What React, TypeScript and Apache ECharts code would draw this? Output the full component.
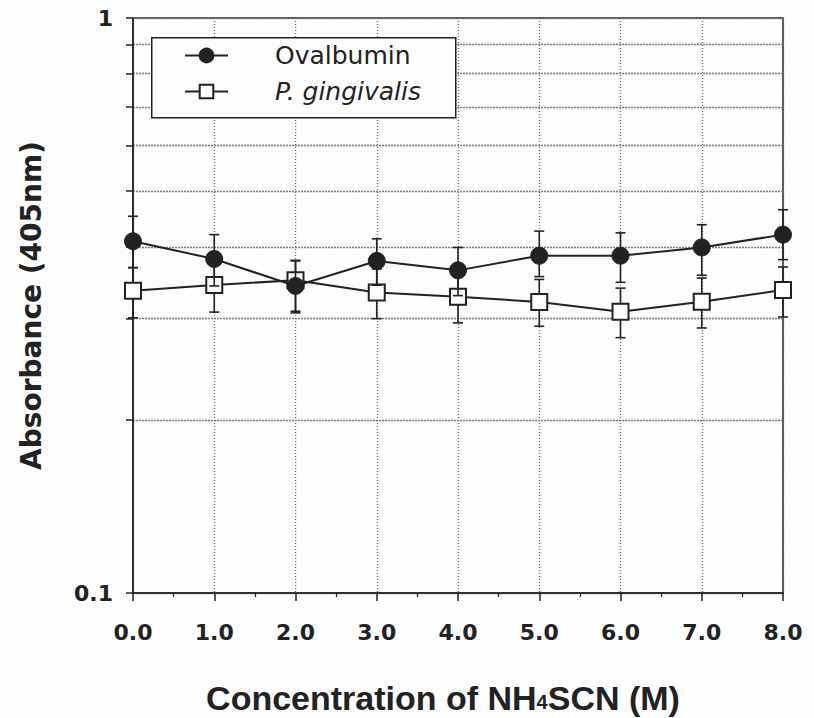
import React, { useEffect, useRef } from "react";
import * as echarts from "echarts";

const xValues = [0, 1, 2, 3, 4, 5, 6, 7, 8];
const xTickLabels = ["0.0", "1.0", "2.0", "3.0", "4.0", "5.0", "6.0", "7.0", "8.0"];

const ovalMean = [0.409, 0.381, 0.342, 0.378, 0.364, 0.386, 0.386, 0.399, 0.42];
const ovalHigh = [0.452, 0.42, 0.379, 0.413, 0.399, 0.426, 0.423, 0.437, 0.464];
const ovalLow = [0.368, 0.342, 0.307, 0.343, 0.329, 0.355, 0.347, 0.357, 0.38];

const pgMean = [0.3355, 0.3433, 0.35, 0.333, 0.3276, 0.3207, 0.3085, 0.321, 0.3365];
const pgHigh = [0.368, 0.379, 0.378, 0.366, 0.36, 0.351, 0.339, 0.353, 0.369];
const pgLow = [0.301, 0.308, 0.309, 0.3, 0.295, 0.291, 0.278, 0.289, 0.302];

const yTickValues = [0.1, 0.2, 0.3, 0.4, 0.5, 0.6, 0.7, 0.8, 0.9, 1];
const yLabelValues = [0.1, 1];

const seriesNames = ["Ovalbumin", "P. gingivalis"];

const INK = "#222";

function errorRender(params: any, api: any) {
  const x = api.value(0);
  const lo = api.value(1);
  const hi = api.value(2);
  const pHi = api.coord([x, hi]);
  const pLo = api.coord([x, lo]);
  const w = 5;
  const style = { stroke: INK, lineWidth: 1.6 };
  return {
    type: "group",
    children: [
      { type: "line", shape: { x1: pHi[0], y1: pHi[1], x2: pLo[0], y2: pLo[1] }, style },
      { type: "line", shape: { x1: pHi[0] - w, y1: pHi[1], x2: pHi[0] + w, y2: pHi[1] }, style },
      { type: "line", shape: { x1: pLo[0] - w, y1: pLo[1], x2: pLo[0] + w, y2: pLo[1] }, style },
    ],
  };
}

export default function App() {
  const ref = useRef<HTMLDivElement>(null);

  useEffect(() => {
    if (!ref.current) return;
    const chart = echarts.init(ref.current, null, { renderer: "svg" });

    const ovalData = xValues.map((x, i) => [x, ovalMean[i]]);
    const pgData = xValues.map((x, i) => [x, pgMean[i]]);
    const ovalErr = xValues.map((x, i) => [x, ovalLow[i], ovalHigh[i]]);
    const pgErr = xValues.map((x, i) => [x, pgLow[i], pgHigh[i]]);

    chart.setOption({
      animation: false,
      backgroundColor: "#fdfdfd",
      grid: {
        left: 133,
        right: 31,
        top: 18,
        bottom: 125,
        outerBoundsMode: "none",
        containLabel: false,
        show: true,
        borderColor: INK,
        borderWidth: 1.5,
        backgroundColor: "transparent",
      },
      graphic: [
        {
          type: "rect",
          left: 151,
          top: 37,
          shape: { width: 304, height: 80 },
          style: { fill: "#fdfdfd", stroke: INK, lineWidth: 1.5 },
          z: 50,
        },
      ],
      legend: {
        data: seriesNames,
        orient: "vertical",
        left: 184,
        top: 43,
        padding: 0,
        itemWidth: 43,
        itemHeight: 17,
        itemGap: 11,
        z: 60,
        formatter: (name: string) =>
          name === "P. gingivalis" ? "{i|" + name + "}" : "{n|" + name + "}",
        textStyle: {
          color: INK,
          fontFamily: "DejaVu Sans",
          fontSize: 25,
          lineHeight: 25,
          rich: {
            n: { fontFamily: "DejaVu Sans", fontSize: 25, color: INK, padding: [0, 0, 0, 42] },
            i: {
              fontFamily: "DejaVu Sans",
              fontSize: 25,
              fontStyle: "italic",
              color: INK,
              padding: [0, 0, 0, 42],
            },
          },
        },
      },
      xAxis: {
        type: "value",
        min: 0,
        max: 8,
        interval: 1,
        name: "Concentration of NH{sub|4}SCN (M)",
        nameLocation: "middle",
        nameGap: 88,
        nameTextStyle: {
          fontFamily: "Liberation Sans",
          fontWeight: "bold",
          fontSize: 34,
          lineHeight: 34,
          color: INK,
          padding: [0, 30, 0, 0],
          rich: {
            sub: {
              fontFamily: "Liberation Sans",
              fontWeight: "bold",
              fontSize: 20,
              lineHeight: 34,
              color: INK,
              padding: [8, 0, 0, 0],
            },
          },
        },
        axisLine: { show: true, lineStyle: { color: INK, width: 1.5 } },
        axisTick: { show: true, length: 8, lineStyle: { color: INK, width: 1.5 } },
        minorTick: { show: true, splitNumber: 2, length: 4, lineStyle: { color: INK, width: 1.2 } },
        axisLabel: {
          margin: 28,
          color: INK,
          fontFamily: "DejaVu Sans",
          fontWeight: "bold",
          fontSize: 22,
          formatter: (v: number) => xTickLabels[xValues.indexOf(v)] ?? "",
        },
        splitLine: { show: true, lineStyle: { color: "#6f6f6f", type: [1, 2], width: 1.3 } },
      },
      yAxis: {
        type: "log",
        logBase: 10,
        min: 0.1,
        max: 1,
        name: "Absorbance (405nm)",
        nameLocation: "middle",
        nameGap: 88,
        nameRotate: 90,
        nameTextStyle: {
          fontFamily: "DejaVu Sans",
          fontWeight: "bold",
          fontSize: 28,
          color: INK,
        },
        axisLine: { show: true, lineStyle: { color: INK, width: 1.5 } },
        axisTick: {
          show: true,
          length: 7,
          customValues: yTickValues,
          lineStyle: { color: INK, width: 1.5 },
        },
        axisLabel: {
          margin: 20,
          color: INK,
          fontFamily: "DejaVu Sans",
          fontWeight: "bold",
          fontSize: 22,
          customValues: yLabelValues,
          formatter: (v: number) => String(v),
        },
        splitLine: {
          show: true,
          lineStyle: { color: "#7a7a7a", type: [2, 1], width: 1.4 },
        },
      },
      series: [
        {
          name: "P. gingivalis err",
          type: "custom",
          renderItem: errorRender,
          data: pgErr,
          encode: { x: 0, y: [1, 2] },
          z: 2,
          silent: true,
        },
        {
          name: "P. gingivalis",
          type: "line",
          data: pgData,
          symbol: "rect",
          symbolSize: 16,
          lineStyle: { color: INK, width: 2 },
          itemStyle: { color: "#ffffff", borderColor: INK, borderWidth: 2 },
          z: 3,
        },
        {
          name: "Ovalbumin err",
          type: "custom",
          renderItem: errorRender,
          data: ovalErr,
          encode: { x: 0, y: [1, 2] },
          z: 4,
          silent: true,
        },
        {
          name: "Ovalbumin",
          type: "line",
          data: ovalData,
          symbol: "circle",
          symbolSize: 17,
          lineStyle: { color: INK, width: 2 },
          itemStyle: { color: INK, borderColor: INK, borderWidth: 1 },
          z: 5,
        },
      ],
    });

    return () => chart.dispose();
  }, []);

  return <div ref={ref} style={{ width: 814, height: 718, position: "absolute", left: 0, top: 0 }} />;
}
